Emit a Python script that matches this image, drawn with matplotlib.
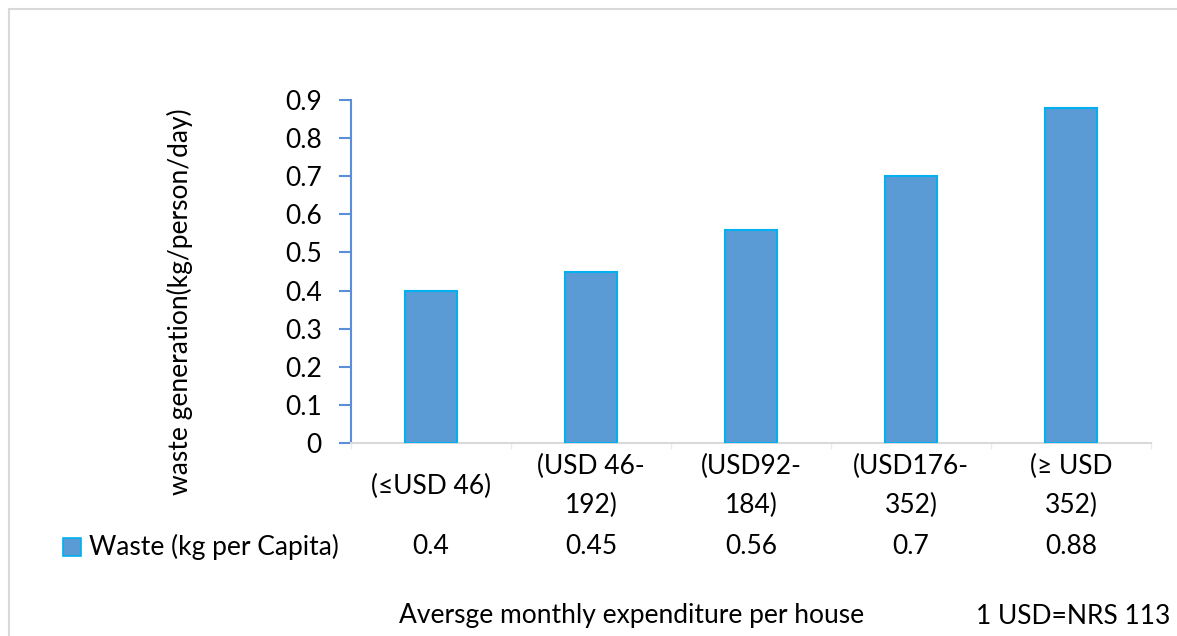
import matplotlib
matplotlib.use("Agg")
import matplotlib.pyplot as plt
from matplotlib.patches import Rectangle

categories = ["(≤USD 46)", "(USD 46-\n192)", "(USD92-\n184)", "(USD176-\n352)", "(≥ USD\n352)"]
values = [0.4, 0.45, 0.56, 0.7, 0.88]
value_labels = ["0.4", "0.45", "0.56", "0.7", "0.88"]
yticks = [0, 0.1, 0.2, 0.3, 0.4, 0.5, 0.6, 0.7, 0.8, 0.9]
ytick_labels = ["0", "0.1", "0.2", "0.3", "0.4", "0.5", "0.6", "0.7", "0.8", "0.9"]
series_name = "Waste (kg per Capita)"
ylabel = "waste generation(kg/person/day)"
xlabel = "Aversge monthly expenditure per house"
note = "1 USD=NRS 113"

plt.rcParams['font.family'] = ['Lato', 'DejaVu Sans']
FS = 19

W, H = 1177, 636
fig = plt.figure(figsize=(W / 100, H / 100), dpi=100)
fig.patch.set_facecolor("white")

# chart area border
fig.patches.append(Rectangle((9 / W, -0.1), 1.2, (H - 9) / H + 0.1, transform=fig.transFigure,
                             fill=False, edgecolor="#D9D9D9", linewidth=1.5))

left, right = 351 / W, 1151 / W
bottom, top = 1 - 443 / H, 1 - 100 / H
ax = fig.add_axes([left, bottom, right - left, top - bottom])

x = list(range(len(categories)))
ax.bar(x, values, width=0.325, color="#5B9BD5", edgecolor="#00B0F0", linewidth=1.5, zorder=3)

ax.set_xlim(-0.5, len(categories) - 0.5)
ax.set_ylim(0, 0.9)
ax.set_yticks(yticks)
ax.set_yticklabels(ytick_labels, fontsize=FS, color="black")
ax.set_xticks(x)
ax.set_xticklabels(categories, fontsize=FS, color="black", linespacing=1.72)
for lbl in ax.get_xticklabels():
    lbl.set_verticalalignment("center")
    lbl.set_multialignment("center")
ax.set_xticks([i + 0.5 for i in range(-1, len(categories))], minor=True)

for s in ["top", "right"]:
    ax.spines[s].set_visible(False)
ax.spines["left"].set_color("#5A8ED6")
ax.spines["left"].set_linewidth(1.5)
ax.spines["bottom"].set_color("#D9D9D9")
ax.spines["bottom"].set_linewidth(1.5)
ax.tick_params(axis="y", direction="out", length=9, width=1.5, color="#5A8ED6", pad=12)
ax.tick_params(axis="x", which="major", length=0, pad=43 * 0.72)
ax.tick_params(axis="x", which="minor", length=4, width=1, color="#EBEBEB")

ax.set_ylabel(ylabel, fontsize=FS)
ax.yaxis.set_label_coords(-0.1975, 0.412)

# data table row
ty = (443 - 547) / 343
trans = ax.get_xaxis_transform()
for xi, lab in zip(x, value_labels):
    ax.text(xi, ty, lab, transform=trans, ha="center", va="center", fontsize=FS)

# legend key + series name
fig.patches.append(Rectangle((63 / W, 1 - 556 / H), 18 / W, 18 / H, transform=fig.transFigure,
                             facecolor="#5B9BD5", edgecolor="#00B0F0", linewidth=1.2))
fig.text(89 / W, 1 - 547 / H, series_name, ha="left", va="center", fontsize=FS)

fig.text(632 / W, 1 - 615 / H, xlabel, ha="center", va="center", fontsize=FS)
fig.text(1170 / W, 1 - 617 / H, note, ha="right", va="center", fontsize=FS)

fig.savefig("out.png", dpi=100, facecolor="white")
